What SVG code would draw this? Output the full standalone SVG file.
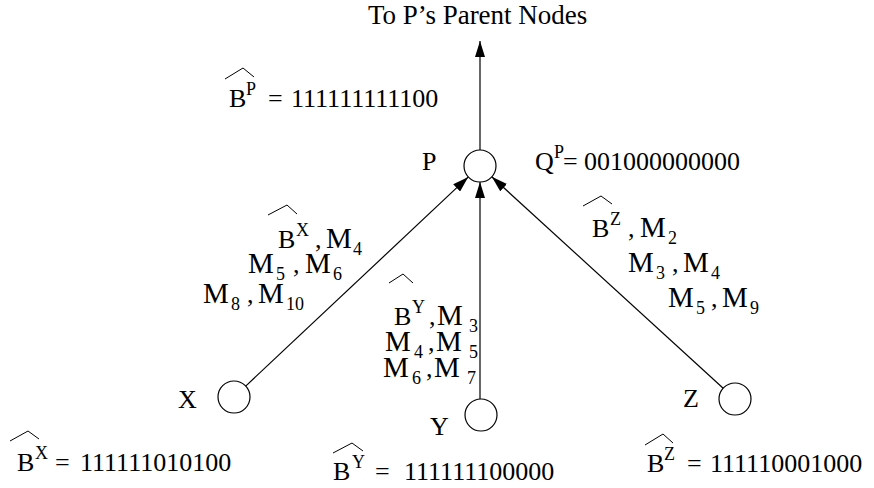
<svg xmlns="http://www.w3.org/2000/svg" width="874" height="488" viewBox="0 0 874 488">
<defs>
<marker id="ah" markerUnits="userSpaceOnUse" markerWidth="16" markerHeight="10" refX="16" refY="5" orient="auto">
<path d="M0,0 L16,5 L0,10 z" fill="#000"/>
</marker>
<style>
text{font-family:"Liberation Serif","Times New Roman",serif;font-size:26px;fill:#000}
.s{font-size:18px}
.m{font-size:29px}
.hat{fill:none;stroke:#000;stroke-width:1}
.edge{fill:none;stroke:#000;stroke-width:1.2}
.node{fill:#fff;stroke:#000;stroke-width:1.2}
</style>
</defs>
<rect width="874" height="488" fill="#fff"/>

<g id="connectors">
<line class="edge" x1="480" y1="150" x2="480" y2="41" marker-end="url(#ah)"/>
<line class="edge" x1="245.7" y1="386.1" x2="468.3" y2="176.9" marker-end="url(#ah)"/>
<line class="edge" x1="480" y1="399" x2="480" y2="182" marker-end="url(#ah)"/>
<line class="edge" x1="723.2" y1="388.2" x2="491.8" y2="176.8" marker-end="url(#ah)"/>
</g>

<g id="title"><text x="368" y="24" style="font-size:27px">To P’s Parent Nodes</text></g>

<g id="node-P">
<circle class="node" cx="480" cy="166" r="16"/>
<text x="422" y="170">P</text>
</g>
<g id="label-BP">
<path class="hat" d="M225,79 L243,68 L254,77"/>
<text x="229" y="107">B</text><text class="s" x="246" y="95">P</text>
<text x="268" y="107">=</text><text x="291" y="107">111111111100</text>
</g>
<g id="label-QP">
<text x="535" y="170">Q</text><text class="s" x="554" y="158">P</text>
<text x="563" y="170">=</text><text x="584" y="170">001000000000</text>
</g>

<g id="node-X">
<circle class="node" cx="234" cy="397" r="16"/>
<text x="178" y="408">X</text>
</g>
<g id="label-BX">
<path class="hat" d="M10,441 L28,431 L39,439"/>
<text x="17" y="471">B</text><text class="s" x="35" y="459">X</text>
<text x="55" y="471">=</text><text x="80" y="471">111111010100</text>
</g>

<g id="node-Y">
<circle class="node" cx="481" cy="415" r="16"/>
<text x="430" y="435">Y</text>
</g>
<g id="label-BY">
<path class="hat" d="M333,453 L352,443 L363,451"/>
<text x="333" y="480">B</text><text class="s" x="352" y="468">Y</text>
<text x="375" y="480">=</text><text x="404" y="480">111111100000</text>
</g>

<g id="node-Z">
<circle class="node" cx="735" cy="399" r="16"/>
<text x="683" y="407">Z</text>
</g>
<g id="label-BZ">
<path class="hat" d="M645,445 L663,434 L673,443"/>
<text x="647" y="472">B</text><text class="s" x="664" y="460">Z</text>
<text x="687" y="472">=</text><text x="710" y="472">111110001000</text>
</g>

<g id="edge-label-X">
<path class="hat" d="M268,215 L287,205 L297,214"/>
<text x="278" y="248">B</text><text class="s" x="296" y="236">X</text>
<text x="315" y="248">,</text><text class="m" x="326" y="248">M</text><text class="s" x="353" y="255">4</text>
<text class="m" x="248" y="273">M</text><text class="s" x="276" y="280">5</text>
<text x="293" y="273">,</text><text class="m" x="305" y="273">M</text><text class="s" x="333" y="280">6</text>
<text class="m" x="203" y="303">M</text><text class="s" x="231" y="310">8</text>
<text x="247" y="303">,</text><text class="m" x="258" y="303">M</text><text class="s" x="286" y="310">10</text>
</g>

<g id="edge-label-Y">
<path class="hat" d="M389,283 L403,274 L413,283"/>
<text x="394" y="325">B</text><text class="s" x="412" y="313">Y</text>
<text x="429" y="325">,</text><text class="m" x="437" y="325">M</text><text class="s" x="469" y="332">3</text>
<text class="m" x="385" y="351">M</text><text class="s" x="414" y="358">4</text>
<text x="428" y="351">,</text><text class="m" x="436" y="351">M</text><text class="s" x="469" y="358">5</text>
<text class="m" x="383" y="377">M</text><text class="s" x="412" y="384">6</text>
<text x="426" y="377">,</text><text class="m" x="434" y="377">M</text><text class="s" x="467" y="384">7</text>
</g>

<g id="edge-label-Z">
<path class="hat" d="M583,206 L601,196 L612,204"/>
<text x="592" y="237">B</text><text class="s" x="610" y="225">Z</text>
<text x="628" y="237">,</text><text class="m" x="640" y="237">M</text><text class="s" x="668" y="244">2</text>
<text class="m" x="628" y="272">M</text><text class="s" x="656" y="279">3</text>
<text x="672" y="272">,</text><text class="m" x="683" y="272">M</text><text class="s" x="711" y="279">4</text>
<text class="m" x="668" y="307">M</text><text class="s" x="696" y="314">5</text>
<text x="711" y="307">,</text><text class="m" x="722" y="307">M</text><text class="s" x="750" y="314">9</text>
</g>
</svg>
